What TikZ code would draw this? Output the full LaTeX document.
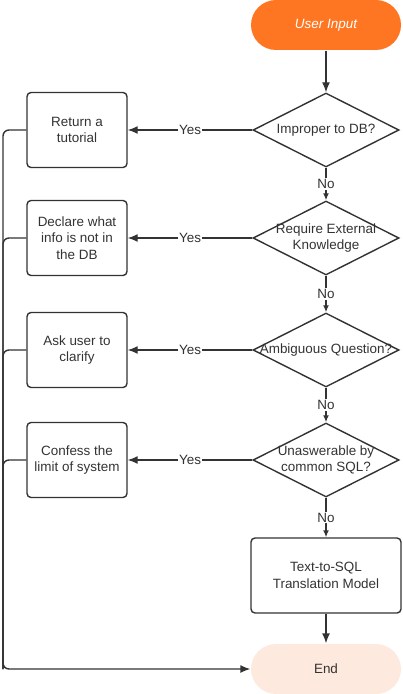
\documentclass[tikz,border=0pt]{standalone}
\usepackage{fontspec}
\setmainfont{Liberation Sans}
\usepackage{tikz}
\usetikzlibrary{arrows.meta, shapes.geometric}

\definecolor{inkgray}{RGB}{51,51,51}
\definecolor{inputorange}{RGB}{255,118,34}
\definecolor{endpeach}{RGB}{253,233,221}

\tikzset{
  flow/.style={draw=inkgray, line width=1.4bp, text=inkgray, align=center},
  terminal/.style={flow, rectangle, rounded corners=25bp, minimum width=150bp, minimum height=50bp},
  action/.style={flow, rectangle, rounded corners=4bp, minimum width=100bp, minimum height=75bp},
  decision/.style={flow, diamond, inner sep=0pt, minimum width=146bp, minimum height=74bp},
  bigtip/.style={-{Latex[length=10bp,width=8bp]}},
  smalltip/.style={-{Latex[length=7bp,width=6bp]}}
}

\begin{document}
\begin{tikzpicture}[x=1bp, y=-1bp, font=\fontsize{13.5}{16.5}\selectfont]
\useasboundingbox (0,0) rectangle (402,694);

  \node[terminal, fill=inputorange, draw=none, text=white, font=\fontsize{13.5}{16.5}\selectfont\itshape] (start) at (326,25) {User Input};

  \node[decision, label={[inkgray, align=center]center:Improper to DB?}] (q1) at (326,130) {};
  \node[decision, label={[inkgray, align=center]center:Require External\\Knowledge}] (q2) at (326,238) {};
  \node[decision, label={[inkgray, align=center]center:Ambiguous Question?}] (q3) at (326,350) {};
  \node[decision, label={[inkgray, align=center]center:Unaswerable by\\common SQL?}] (q4) at (326,460) {};

  \node[action] (tut) at (77,130) {Return a\\tutorial};
  \node[action] (decl) at (77,238) {Declare what\\info is not in\\the DB};
  \node[action] (ask) at (77,350) {Ask user to\\clarify};
  \node[action] (conf) at (77,460) {Confess the\\limit of system};

  \node[action, minimum width=150bp] (sql) at (326,575.5) {Text-to-SQL\\Translation Model};
  \node[terminal, fill=endpeach, draw=none] (end) at (326,669) {End};

  \coordinate (rail) at (3,669);

\begin{scope}[every node/.style={fill=white, inner sep=1bp, text=inkgray}, line width=1.4bp, draw=inkgray]
\path[bigtip] (start) edge (q1);

\path[smalltip] (q1) edge node {No} (q2);
\path[smalltip] (q2) edge node {No} (q3);
\path[smalltip] (q3) edge node {No} (q4);
\path[smalltip] (q4) edge node {No} (sql);
\path[bigtip] (sql) edge (end);

\path[bigtip] (q1) edge node {Yes} (tut);
\path[bigtip] (q2) edge node {Yes} (decl);
\path[bigtip] (q3) edge node {Yes} (ask);
\path[bigtip] (q4) edge node {Yes} (conf);
\end{scope}

\begin{scope}[line width=1.4bp, draw=inkgray, rounded corners=6bp]
\draw[bigtip] (tut.west) -| (rail) -- (end.west);
\draw (decl.west) -| (rail);
\draw (ask.west) -| (rail);
\draw (conf.west) -| (rail);
\end{scope}

\end{tikzpicture}
\end{document}
